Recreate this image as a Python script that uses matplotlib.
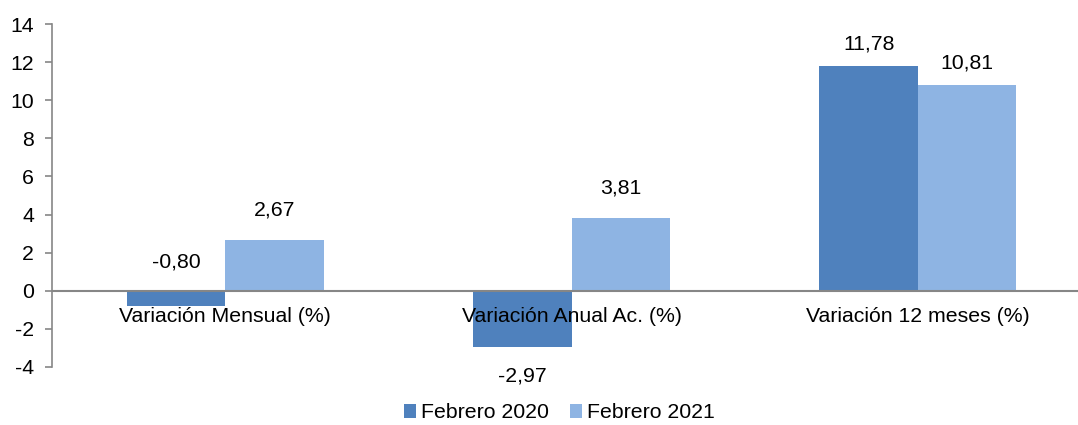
"""
Variaciones del indice, febrero 2020 vs febrero 2021.
"""
import matplotlib.pyplot as plt
import numpy as np

plt.rcParams["font.family"] = ["Liberation Sans", "DejaVu Sans"]
plt.rcParams["axes.unicode_minus"] = False

categorias = ["Variación Mensual (%)", "Variación Anual Ac. (%)", "Variación 12 meses (%)"]
series = ["Febrero 2020", "Febrero 2021"]
feb2020 = [-0.80, -2.97, 11.78]
feb2021 = [2.67, 3.81, 10.81]
colores = ["#4F81BD", "#8EB4E3"]

W, H = 1078, 425
FS = 15.3
fig = plt.figure(figsize=(W / 100, H / 100), dpi=100)
ax = fig.add_axes([52 / W, (H - 367) / H, (1091 - 52) / W, (367 - 24) / H])

x = np.arange(len(categorias))
bw = 0.284
b1 = ax.bar(x - bw / 2, feb2020, bw, color=colores[0], label=series[0], zorder=2)
b2 = ax.bar(x + bw / 2, feb2021, bw, color=colores[1], label=series[1], zorder=2)

fmt = lambda v: ("%.2f" % v).replace(".", ",")
# etiquetas de datos (como en excel: -0,80 queda sobre el eje)
for xi, v in zip(x - bw / 2, feb2020):
    if v < -2:
        off, y = -29, v
    elif v < 0:
        off, y = 29, 0
    else:
        off, y = 22, v
    ax.annotate(fmt(v), (xi, y), xytext=(0, off), textcoords="offset pixels",
                ha="center", va="center", fontsize=FS)
for xi, v in zip(x + bw / 2, feb2021):
    off = 22 if v > 8 else 30
    ax.annotate(fmt(v), (xi, v), xytext=(0, off), textcoords="offset pixels",
                ha="center", va="center", fontsize=FS)

ax.set_ylim(-4, 14)
ax.set_xlim(-0.5, 2.5)
ax.set_yticks(range(-4, 15, 2))
ax.axhline(0, color="#868686", lw=1.5, zorder=3)

for xi, c in zip(x, categorias):
    ax.annotate(c, (xi, 0), xytext=(0, -26), textcoords="offset pixels",
                ha="center", va="center", fontsize=FS, zorder=4)

ax.set_xticks([])
for s in ["top", "right", "bottom"]:
    ax.spines[s].set_visible(False)
ax.spines["left"].set_color("#868686")
ax.spines["left"].set_linewidth(1.2)
ax.tick_params(axis="y", direction="out", length=5, width=1.2, color="#868686",
               labelsize=FS, pad=8)

fig.legend(handles=[b1, b2], labels=series, loc="center", bbox_to_anchor=(559 / W, (H - 413) / H),
           ncol=2, frameon=False, fontsize=FS, handlelength=0.6, handleheight=0.6,
           handletextpad=0.2, columnspacing=1.0)

fig.savefig("out.png", dpi=100)
